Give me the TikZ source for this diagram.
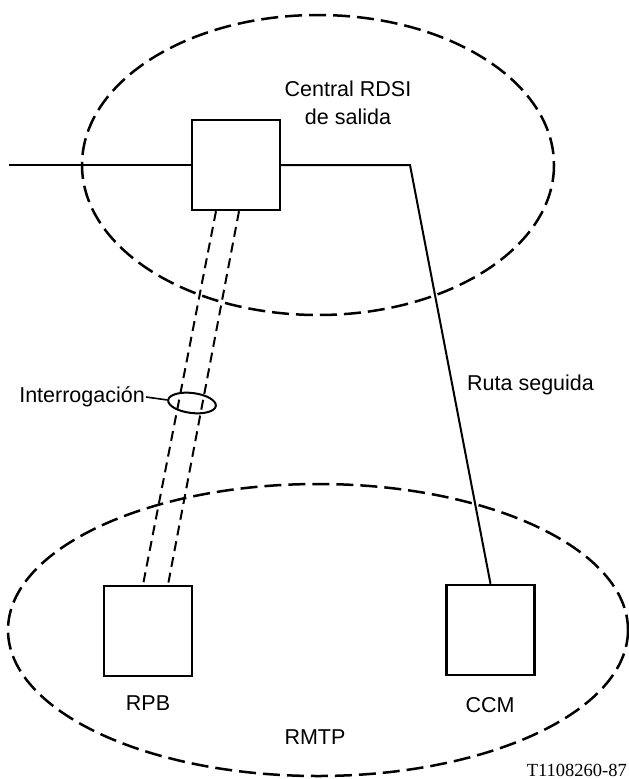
\documentclass[tikz,border=0pt]{standalone}
\usepackage{fontspec}
\setmainfont{Liberation Sans}
\newfontfamily\refserif{Liberation Serif}
\usetikzlibrary{shapes.geometric}
\begin{document}
\begin{tikzpicture}[x=1pt,y=-1pt,
  box/.style={draw, line width=2.4pt, minimum width=88pt, minimum height=90pt, inner sep=0pt},
  region/.style={line width=2.5pt, dash pattern=on 17pt off 7pt},
  conn/.style={line width=2pt},
  dline/.style={line width=2pt, dash pattern=on 10pt off 6pt},
  lbl/.style={font=\fontsize{21.5}{28}\selectfont, inner sep=1pt}]
\useasboundingbox (0,0) rectangle (629,779);
\fill[white] (0,0) rectangle (629,779);
% regions
\draw[region] (318,165) ellipse [x radius=236, y radius=150];
\draw[region] (318,630) ellipse [x radius=310, y radius=146];
% boxes
\node[box] (A) at (236,165) {};
\node[box] (R) at (148,631) {};
\node[box] (C) at (490.5,630) {};
% connectors
\coordinate (L) at (9,165);
\coordinate (K) at (410,165);
\draw[conn] (L) -- (A.west);
\draw[conn] (A.east) -- (K) -- (C.north);
\draw[dline] ([xshift=-20pt]A.south) -- ([xshift=-5pt]R.north);
\draw[dline] ([xshift=3pt]A.south) -- ([xshift=20pt]R.north);
% interrogation ellipse and label
\node[draw, ellipse, line width=2pt, minimum width=48pt, minimum height=20pt, inner sep=0pt, rotate=-7] (E) at (192,403) {};
\node[lbl, anchor=east] (I) at (146,397) {Interrogación};
\draw[conn, line width=1.6pt] (I.east) -- (E.west);
% labels
\node[lbl, align=center] (T) at (348,103) {Central RDSI\\de salida};
\node[lbl, anchor=west] (RS) at (466,385) {Ruta seguida};
\node[lbl] (RPB) at (148,703) {RPB};
\node[lbl] (CCM) at (490,705) {CCM};
\node[lbl] (RMTP) at (315,737) {RMTP};
\node[font=\refserif\fontsize{18.5}{20}\selectfont, anchor=east, inner sep=1pt] (ID) at (628,770) {T1108260-87};
\end{tikzpicture}
\end{document}
